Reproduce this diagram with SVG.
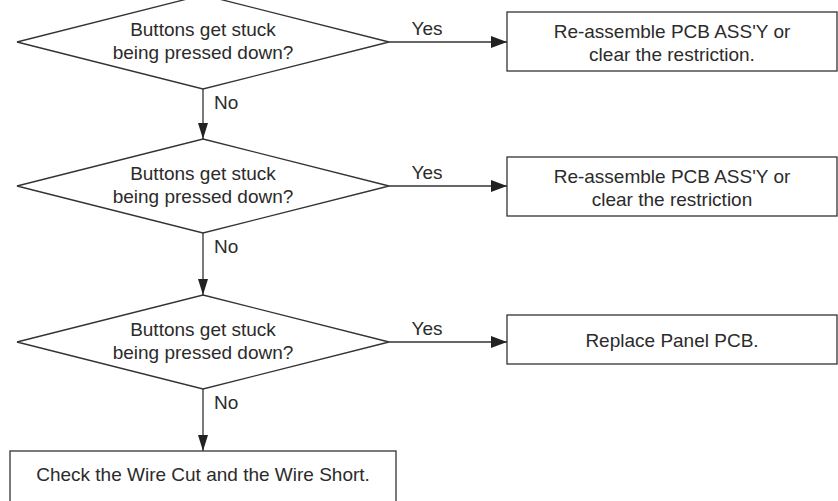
<svg xmlns="http://www.w3.org/2000/svg" width="838" height="501" viewBox="0 0 838 501">
<defs>
<style>
.shape{fill:#fff;stroke:#333;stroke-width:1.3}
.line{fill:none;stroke:#333;stroke-width:1.3}
text{font-family:"Liberation Sans",Arial,sans-serif;font-size:19px;fill:#2b2b2b}
.c{text-anchor:middle}
</style>
<marker id="ah" viewBox="0 0 16 12" refX="16" refY="6" markerWidth="16" markerHeight="12" markerUnits="userSpaceOnUse" orient="auto">
<path d="M0,0 L16,6 L0,12 Z" fill="#222"/>
</marker>
<marker id="av" viewBox="0 0 16 10" refX="16" refY="5" markerWidth="16" markerHeight="10" markerUnits="userSpaceOnUse" orient="auto">
<path d="M0,0 L16,5 L0,10 Z" fill="#222"/>
</marker>
</defs>
<g id="connectors">
<line class="line" x1="389" y1="42" x2="507" y2="42" marker-end="url(#ah)"/>
<text x="427" y="35" class="c">Yes</text>
<line class="line" x1="203" y1="89" x2="203" y2="139" marker-end="url(#av)"/>
<text x="214" y="109">No</text>
<line class="line" x1="389" y1="186" x2="507" y2="186" marker-end="url(#ah)"/>
<text x="427" y="179" class="c">Yes</text>
<line class="line" x1="203" y1="233" x2="203" y2="295" marker-end="url(#av)"/>
<text x="214" y="253">No</text>
<line class="line" x1="389" y1="342" x2="507" y2="342" marker-end="url(#ah)"/>
<text x="427" y="335" class="c">Yes</text>
<line class="line" x1="203" y1="389" x2="203" y2="451" marker-end="url(#av)"/>
<text x="214" y="409">No</text>
</g>
<g id="d1">
<polygon class="shape" points="203,-5 389,42 203,89 17,42"/>
<text x="203" y="36" class="c">Buttons get stuck</text>
<text x="203" y="59" class="c">being pressed down?</text>
</g>
<g id="b1">
<rect class="shape" x="507" y="12" width="330" height="59"/>
<text x="672" y="38" class="c">Re-assemble PCB ASS'Y or</text>
<text x="672" y="61" class="c">clear the restriction.</text>
</g>
<g id="d2">
<polygon class="shape" points="203,139 389,186 203,233 17,186"/>
<text x="203" y="180" class="c">Buttons get stuck</text>
<text x="203" y="203" class="c">being pressed down?</text>
</g>
<g id="b2">
<rect class="shape" x="507" y="157" width="330" height="59"/>
<text x="672" y="183" class="c">Re-assemble PCB ASS'Y or</text>
<text x="672" y="206" class="c">clear the restriction</text>
</g>
<g id="d3">
<polygon class="shape" points="203,295 389,342 203,389 17,342"/>
<text x="203" y="336" class="c">Buttons get stuck</text>
<text x="203" y="359" class="c">being pressed down?</text>
</g>
<g id="b3">
<rect class="shape" x="507" y="315" width="330" height="49"/>
<text x="672" y="347" class="c">Replace Panel PCB.</text>
</g>
<g id="b4">
<rect class="shape" x="10" y="451" width="386" height="55"/>
<text x="203" y="481" class="c">Check the Wire Cut and the Wire Short.</text>
</g>
</svg>
